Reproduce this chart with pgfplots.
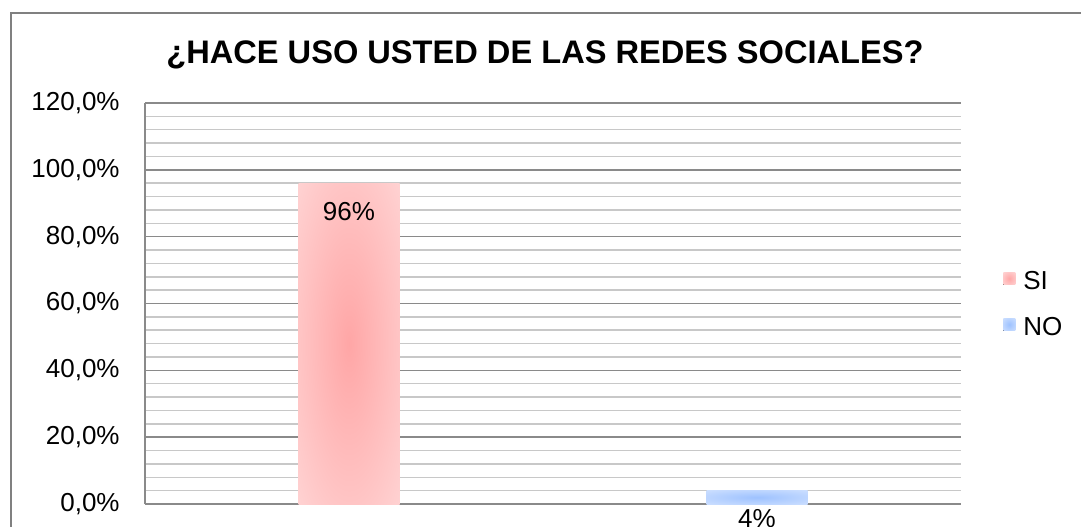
\documentclass[border=0pt]{standalone}
\usepackage{fontspec}
\setmainfont{Liberation Sans}
\usepackage{pgfplots}
\pgfplotsset{compat=1.18}

\definecolor{gridmaj}{RGB}{138,138,138}
\definecolor{gridmin}{RGB}{200,200,200}
\definecolor{framegray}{RGB}{128,128,128}
\definecolor{siin}{RGB}{255,166,166}
\definecolor{siout}{RGB}{255,228,228}
\definecolor{noin}{RGB}{158,194,255}
\definecolor{noout}{RGB}{220,233,255}

\pgfdeclareradialshading{sishade}{\pgfpointorigin}{color(0bp)=(siin); color(50bp)=(siout); color(75bp)=(siout)}
\pgfdeclareradialshading{noshade}{\pgfpointorigin}{color(0bp)=(noin); color(50bp)=(noout); color(75bp)=(noout)}

\begin{document}
\begin{tikzpicture}[x=0.5pt,y=0.5pt]
\useasboundingbox (0,0) rectangle (1081,526);
\clip (0,0) rectangle (1081,526);
% outer chart frame, cut off at right and bottom
\draw[framegray, line width=1.2pt] (11,-20) rectangle (1110,513);
\node[font=\fontsize{16.3}{19}\selectfont\bfseries] at (545,471)
  {¿HACE USO USTED DE LAS REDES SOCIALES?};

\begin{axis}[
  at={(72.5pt,11pt)}, anchor=south west,
  width=408pt, height=200.5pt, scale only axis,
  xmin=-0.5, xmax=1.5,
  ymin=0, ymax=120,
  xtick=\empty,
  ytick={0,20,...,120},
  yticklabels={{0,0\%},{20,0\%},{40,0\%},{60,0\%},{80,0\%},{100,0\%},{120,0\%}},
  minor y tick num=4,
  ymajorgrids, yminorgrids,
  major grid style={gridmaj, line width=0.75pt},
  minor grid style={gridmin, line width=0.75pt},
  axis x line*=bottom, axis y line*=left,
  axis line style={gridmaj, line width=0.8pt, -},
  major tick length=0pt, minor tick length=0pt,
  yticklabel style={anchor=east, inner sep=0pt, xshift=-12.5pt,
    font=\fontsize{13}{15}\selectfont},
  /pgf/number format/assume math mode=true,
  ybar, bar width=50.5pt,
  clip=false,
  nodes near coords={\pgfmathprintnumber{\pgfplotspointmeta}\%},
  every node near coord/.append style={anchor=center, yshift=-14pt,
    font=\fontsize{13}{15}\selectfont, black},
  legend style={at={(1.044,0.5)}, anchor=west, draw=none, fill=none,
    font=\fontsize{13}{15}\selectfont, row sep=11pt,
    nodes={inner sep=1.5pt, text height=9pt, text depth=0pt}},
  legend cell align=left,
  legend image code/.code={\fill[#1] (0pt,-2pt) rectangle (6pt,4pt);
    \path (8.5pt,-2pt) -- (8.5pt,4pt);},
]
\addplot[draw=none, shading=sishade, bar shift=0pt] coordinates {(0,96)};
\addlegendentry{SI}
\addplot[draw=none, shading=noshade, bar shift=0pt] coordinates {(1,4)};
\addlegendentry{NO}
\end{axis}
\end{tikzpicture}
\end{document}
